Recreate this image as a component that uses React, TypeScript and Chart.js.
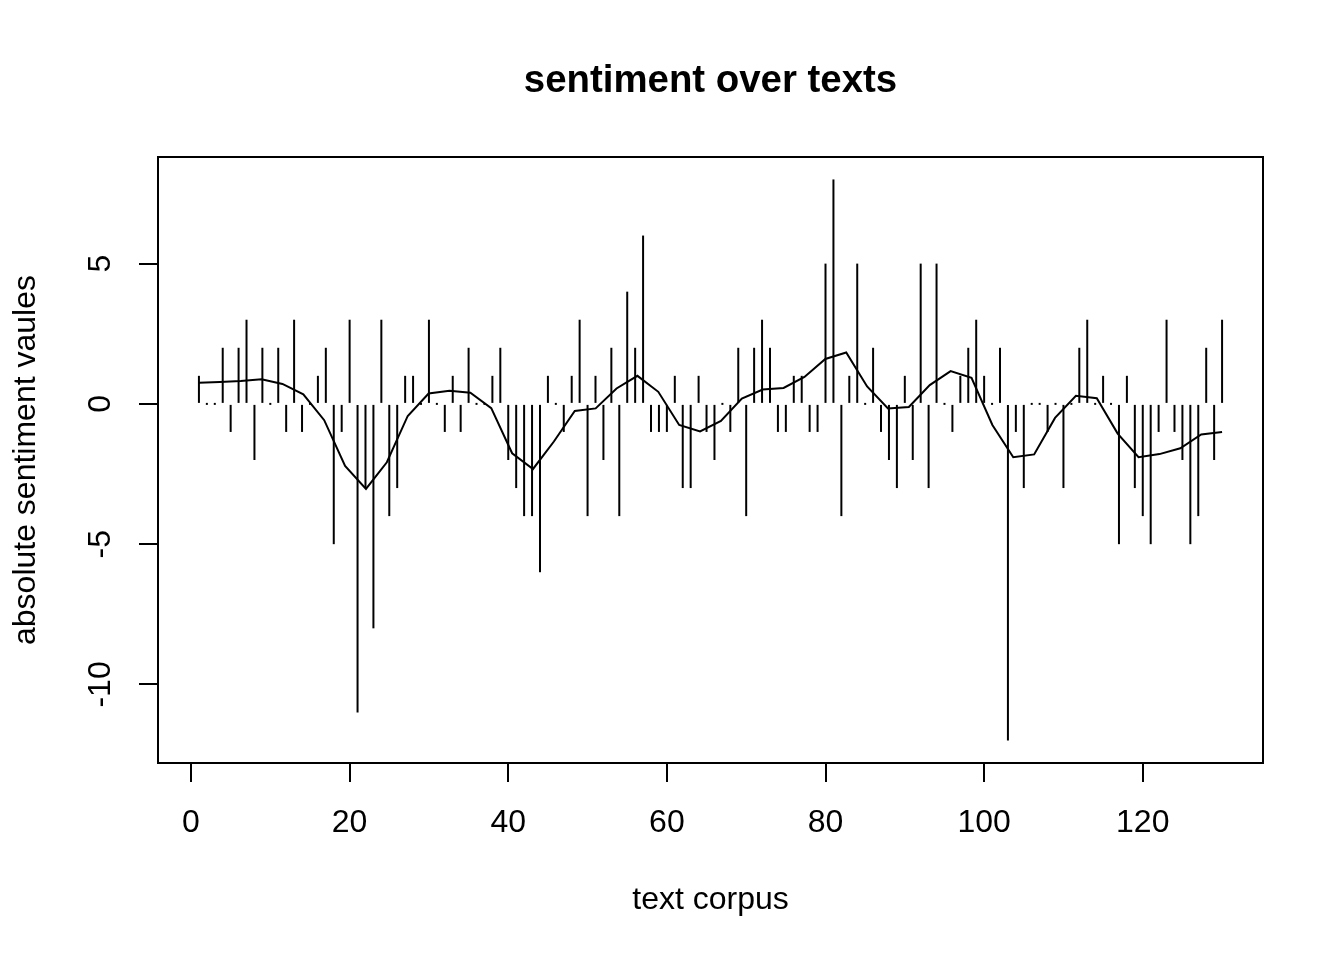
import React, { useEffect, useRef } from "react";
import { Chart, registerables } from "chart.js";

Chart.register(...registerables);

const TITLE = "sentiment over texts";
const X_LABEL = "text corpus";
const Y_LABEL = "absolute sentiment vaules";

// sentiment value of each text (index 1..130)
const SENTIMENT: number[] = [
  1, 0, 0, 2, -1, 2, 3, -2, 2, 0,
  2, -1, 3, -1, 0, 1, 2, -5, -1, 3,
  -11, -3, -8, 3, -4, -3, 1, 1, 0, 3,
  0, -1, 1, -1, 2, 0, 0, 1, 2, -2,
  -3, -4, -4, -6, 1, 0, -1, 1, 3, -4,
  1, -2, 2, -4, 4, 2, 6, -1, -1, -1,
  1, -3, -3, 1, -1, -2, 0, -1, 2, -4,
  2, 3, 2, -1, -1, 1, 1, -1, -1, 5,
  8, -4, 1, 5, 0, 2, -1, -2, -3, 1,
  -2, 5, -3, 5, 0, -1, 1, 2, 3, 1,
  0, 2, -12, -1, -3, 0, 0, -1, 0, -3,
  0, 2, 3, 0, 1, 0, -5, 1, -3, -4,
  -5, -1, 3, -1, -2, -5, -4, 2, -2, 3,
];

// smoothed trend, 50 evenly spaced points over the same index range
const SMOOTH: number[] = [
  0.75, 0.78, 0.82, 0.88, 0.71, 0.34, -0.58, -2.21, -3.03, -2.08,
  -0.43, 0.37, 0.47, 0.4, -0.15, -1.76, -2.32, -1.34, -0.25, -0.16,
  0.55, 1.0, 0.43, -0.75, -0.98, -0.61, 0.19, 0.51, 0.57, 0.96,
  1.6, 1.83, 0.62, -0.16, -0.11, 0.67, 1.17, 0.93, -0.75, -1.9,
  -1.8, -0.5, 0.29, 0.2, -1.06, -1.9, -1.79, -1.58, -1.09, -1.0,
];

const X_TICKS: number[] = [0, 20, 40, 60, 80, 100, 120];
const Y_TICKS: number[] = [-10, -5, 0, 5];
const X_MIN = -4.16;
const X_MAX = 135.16;
const Y_MIN = -12.8;
const Y_MAX = 8.8;

const FONT = "'Liberation Sans', Arial, Helvetica, sans-serif";

const framePlugin = {
  id: "rFrame",
  afterDraw(chart: any) {
    const { ctx, chartArea: a, scales } = chart;
    ctx.save();
    ctx.strokeStyle = "#000";
    ctx.lineWidth = 2;
    ctx.strokeRect(a.left, a.top, a.right - a.left, a.bottom - a.top);

    // rotated y tick labels (R style, las = 0)
    ctx.fillStyle = "#000";
    ctx.font = `32px ${FONT}`;
    ctx.textAlign = "center";
    ctx.textBaseline = "alphabetic";
    const ys = scales.y;
    ys.ticks.forEach((t: any) => {
      const py = ys.getPixelForValue(t.value);
      ctx.save();
      ctx.translate(a.left - 48, py);
      ctx.rotate(-Math.PI / 2);
      ctx.fillText(String(t.value), 0, 0);
      ctx.restore();
    });

    // main title, centred over the plot region
    ctx.font = `bold 38.4px ${FONT}`;
    ctx.fillText(TITLE, (a.left + a.right) / 2, a.top - 65);
    ctx.restore();
  },
};

export default function App() {
  const ref = useRef<HTMLCanvasElement | null>(null);

  useEffect(() => {
    if (!ref.current) return;
    const n = SENTIMENT.length;
    const smoothX = SMOOTH.map((_, k) => 1 + (k * (n - 1)) / (SMOOTH.length - 1));

    const chart = new Chart(ref.current, {
      type: "bar",
      data: {
        datasets: [
          {
            type: "bar",
            data: SENTIMENT.map((v, i) => ({ x: i + 1, y: [0, v] })) as any,
            backgroundColor: "#000",
            borderWidth: 0,
            barThickness: 2,
            minBarLength: 2,
            inflateAmount: 0,
            order: 2,
          } as any,
          {
            type: "line",
            data: SMOOTH.map((v, k) => ({ x: smoothX[k], y: v })) as any,
            borderColor: "#000",
            borderWidth: 2,
            pointRadius: 0,
            fill: false,
            tension: 0,
            order: 1,
          } as any,
        ],
      },
      options: {
        animation: false,
        responsive: false,
        devicePixelRatio: 1,
        events: [],
        layout: { padding: { top: 157, right: 81, left: 0, bottom: 0 } },
        plugins: {
          legend: { display: false },
          tooltip: { enabled: false },
          title: { display: false },
        },
        scales: {
          x: {
            type: "linear",
            min: X_MIN,
            max: X_MAX,
            offset: false,
            afterBuildTicks: (s: any) => {
              s.ticks = X_TICKS.map((v) => ({ value: v }));
            },
            afterFit: (s: any) => {
              s.height = 197;
            },
            grid: {
              display: true,
              offset: false,
              drawOnChartArea: false,
              drawTicks: true,
              tickLength: 19,
              tickWidth: 2,
              tickColor: "#000",
              color: "#000",
              lineWidth: 2,
            },
            border: { display: false },
            ticks: {
              display: true,
              autoSkip: false,
              maxRotation: 0,
              minRotation: 0,
              padding: 21.8,
              color: "#000",
              font: { family: FONT, size: 32 },
            },
            title: {
              display: true,
              text: X_LABEL,
              color: "#000",
              font: { family: FONT, size: 32 },
              padding: { top: 0, bottom: 40.2 },
            },
          } as any,
          y: {
            type: "linear",
            min: Y_MIN,
            max: Y_MAX,
            afterBuildTicks: (s: any) => {
              s.ticks = Y_TICKS.map((v) => ({ value: v }));
            },
            afterFit: (s: any) => {
              s.width = 158;
            },
            grid: {
              display: true,
              drawOnChartArea: false,
              drawTicks: true,
              tickLength: 19,
              tickWidth: 2,
              tickColor: "#000",
              color: "#000",
              lineWidth: 2,
            },
            border: { display: false },
            ticks: { display: false },
            title: {
              display: true,
              text: Y_LABEL,
              color: "#000",
              font: { family: FONT, size: 32 },
              padding: { top: 7.4, bottom: 0 },
            },
          } as any,
        },
      } as any,
      plugins: [framePlugin],
    });

    return () => chart.destroy();
  }, []);

  return (
    <div style={{ position: "absolute", left: 0, top: 0, width: 1344, height: 960, background: "#fff" }}>
      <canvas ref={ref} width={1344} height={960} style={{ display: "block" }} />
    </div>
  );
}
